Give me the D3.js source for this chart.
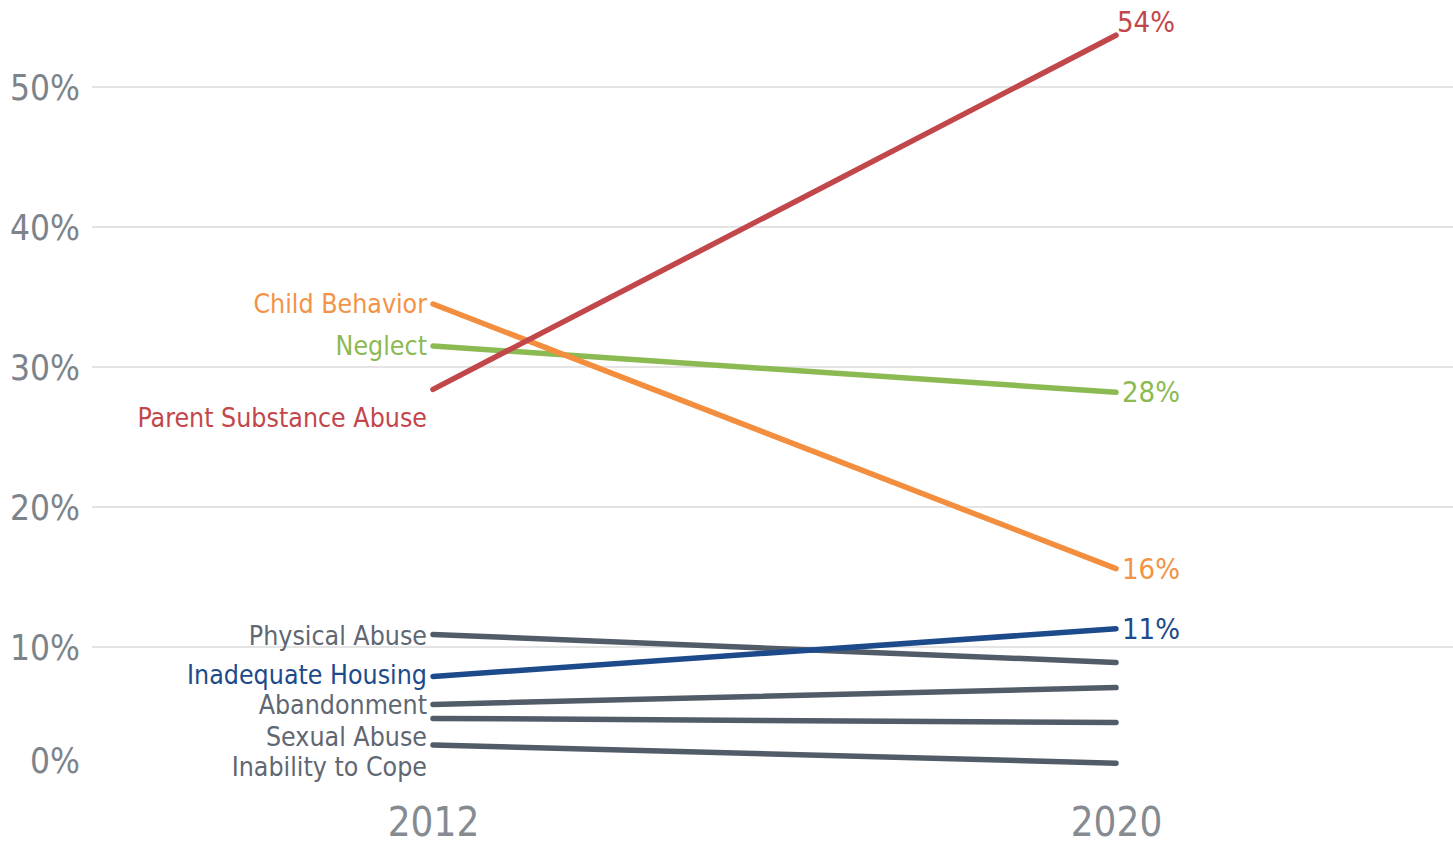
<!DOCTYPE html>
<html>
<head>
<meta charset="utf-8">
<script src="https://cdn.jsdelivr.net/npm/d3@7"></script>
<style>
  html, body { margin: 0; padding: 0; background: #fff; }
  svg { display: block; }
  text { font-family: "DejaVu Sans Condensed", "Liberation Sans Narrow", "Noto Sans", sans-serif; }
</style>
</head>
<body>
<svg id="chart" width="1453" height="846"></svg>
<script>
// ---- Data ----
const categories = ["Parent Substance Abuse", "Child Behavior", "Neglect", "Inadequate Housing",
                    "Physical Abuse", "Abandonment", "Sexual Abuse", "Inability to Cope"];
const years = ["2012", "2020"];
const values2012 = [28.4, 34.5, 31.5, 7.9, 10.9, 5.9, 4.9, 3.0];
const values2020 = [53.7, 15.6, 28.2, 11.3, 8.9, 7.1, 4.6, 1.7];
const endLabels = ["54%", "16%", "28%", "11%", null, null, null, null];
const yTicks = [0, 10, 20, 30, 40, 50];

// ---- Style / layout ----
const colors = {
  "Parent Substance Abuse": "#c2474b",
  "Child Behavior": "#f28e3e",
  "Neglect": "#8cba52",
  "Inadequate Housing": "#1d4a8a",
  "Physical Abuse": "#525c68",
  "Abandonment": "#525c68",
  "Sexual Abuse": "#525c68",
  "Inability to Cope": "#525c68"
};
const labelColors = {
  "Parent Substance Abuse": "#c2474b",
  "Child Behavior": "#f29346",
  "Neglect": "#8cba52",
  "Inadequate Housing": "#1d4a8a",
  "Physical Abuse": "#5f6772",
  "Abandonment": "#5f6772",
  "Sexual Abuse": "#5f6772",
  "Inability to Cope": "#5f6772"
};
// vertical nudges for left labels to avoid overlap (px)
const labelNudge = {"Parent Substance Abuse": 28, "Sexual Abuse": 18, "Inability to Cope": 22, "Physical Abuse": 1, "Inadequate Housing": -2};
const endNudge = {"54%": [-5, -13]};

const svg = d3.select("#chart");
const x = d3.scalePoint().domain(years).range([433, 1116]);
const y = d3.scaleLinear().domain([0, 50]).range([787, 87]);

// gridlines (no line at 0)
svg.append("g").selectAll("line")
  .data(yTicks.filter(d => d > 0))
  .join("line")
  .attr("x1", 92).attr("x2", 1453)
  .attr("y1", d => y(d)).attr("y2", d => y(d))
  .attr("stroke", "#e4e4e4").attr("stroke-width", 2);

// y axis labels
const yAxis = d3.axisLeft(y).tickValues(yTicks).tickFormat(d => d + "%").tickSize(0).tickPadding(0);
const ya = svg.append("g").attr("transform", "translate(80,0)").call(yAxis);
ya.select(".domain").remove();
ya.selectAll("text")
  .attr("font-family", "'DejaVu Sans Condensed', sans-serif")
  .attr("font-size", 35).attr("fill", "#7d838b")
  .attr("dy", "0.35em")
  .attr("transform", d => d === 0 ? "translate(0,-27)" : null);

// x axis labels
const xAxis = d3.axisBottom(x).tickSize(0).tickPadding(0);
const xa = svg.append("g").attr("transform", "translate(0,808)").call(xAxis);
xa.select(".domain").remove();
xa.selectAll("text")
  .attr("font-family", "'DejaVu Sans Condensed', sans-serif")
  .attr("font-size", 40).attr("fill", "#868b92").attr("dy", "0.71em").attr("y", 0);

// lines
const rows = categories.map((c, i) => ({c, v: [values2012[i], values2020[i]], end: endLabels[i]}));
const line = d3.line().x((d, i) => x(years[i])).y(d => y(d));

// draw grey first, then colored on top
const order = ["Inability to Cope", "Sexual Abuse", "Abandonment", "Physical Abuse",
               "Inadequate Housing", "Neglect", "Child Behavior", "Parent Substance Abuse"];
const sorted = order.map(c => rows.find(r => r.c === c));

svg.append("g").selectAll("path")
  .data(sorted)
  .join("path")
  .attr("d", d => line(d.v))
  .attr("fill", "none")
  .attr("stroke", d => colors[d.c])
  .attr("stroke-width", 5.5)
  .attr("stroke-linecap", "round");

// left labels
svg.append("g").selectAll("text")
  .data(rows)
  .join("text")
  .attr("x", x("2012") - 6)
  .attr("y", d => y(d.v[0]) + (labelNudge[d.c] || 0))
  .attr("dy", "0.35em")
  .attr("text-anchor", "end")
  .attr("font-size", 26.5)
  .attr("fill", d => labelColors[d.c])
  .text(d => d.c);

// right value labels
svg.append("g").selectAll("text")
  .data(rows.filter(d => d.end))
  .join("text")
  .attr("x", d => x("2020") + 6 + (endNudge[d.end] ? endNudge[d.end][0] : 0))
  .attr("y", d => y(d.v[1]) + (endNudge[d.end] ? endNudge[d.end][1] : 0))
  .attr("dy", "0.35em")
  .attr("font-size", 29)
  .attr("fill", d => labelColors[d.c])
  .text(d => d.end);
</script>
</body>
</html>
